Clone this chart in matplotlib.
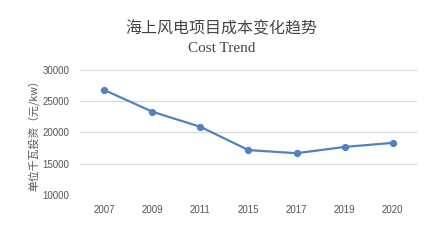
import matplotlib
matplotlib.use('Agg')
import matplotlib.pyplot as plt

years = ['2007', '2009', '2011', '2015', '2017', '2019', '2020']
cost = [26750, 23300, 20900, 17200, 16700, 17700, 18350]
y_ticks = [10000, 15000, 20000, 25000, 30000]

fig = plt.figure(figsize=(4.34, 2.4), dpi=100)
ax = fig.add_axes([0.185, 0.186, 0.775, 0.524])

x = list(range(len(years)))
ax.plot(x, cost, color='#4f81c3', linewidth=1.6, marker='o', markersize=4.2, zorder=3)

ax.set_xlim(-0.5, len(years) - 0.5)
ax.set_ylim(10000, 30000)
ax.set_yticks(y_ticks)
ax.set_yticklabels([str(v) for v in y_ticks], fontfamily='Liberation Sans', fontsize=7, color='#555555')
ax.set_xticks(x)
ax.set_xticklabels(years, fontfamily='Liberation Sans', fontsize=7, color='#555555')
ax.tick_params(length=0, pad=8)
ax.tick_params(axis='x', pad=7)
ax.grid(axis='y', color='#d9d9d9', linewidth=0.8)
ax.set_axisbelow(True)
for s in ax.spines.values():
    s.set_visible(False)

ax.set_ylabel('单位千瓦投资（元/kw）', fontfamily=['Noto Sans CJK SC', 'DejaVu Sans'],
              fontsize=7.8, color='#555555', labelpad=2)

fig.text(0.511, 0.879, '海上风电项目成本变化趋势', ha='center', va='center',
         fontfamily=['Noto Sans CJK SC', 'DejaVu Sans'], fontsize=11.5, color='#444444')
fig.text(0.511, 0.80, 'Cost Trend', ha='center', va='center',
         fontfamily='Liberation Serif', fontsize=11, color='#444444')

fig.savefig('out.png', dpi=100, facecolor='white')
